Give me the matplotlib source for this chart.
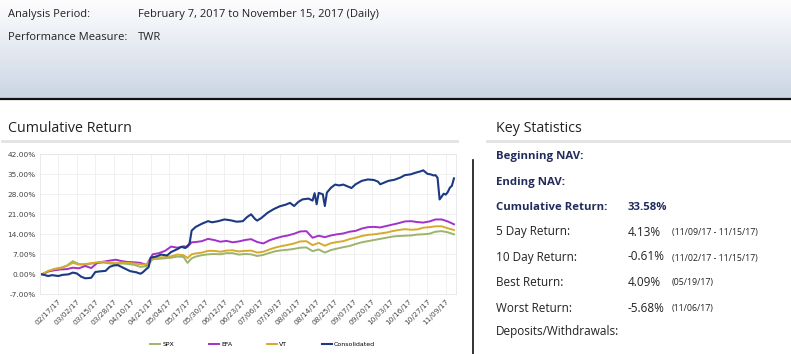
import numpy as np
import matplotlib.pyplot as plt
from matplotlib.colors import LinearSegmentedColormap

# x axis = weekday index counted from 02/07/17 (0) to 11/15/17 (201)
bench_day = [0, 3, 6, 9, 12, 15, 18, 21, 24, 27, 30, 33, 36, 39, 42, 45, 48, 51, 54, 57,
             60, 63, 66, 69, 71, 73, 75, 78, 81, 84, 87, 90, 93, 96, 99, 102, 105, 108, 111, 114,
             117, 120, 123, 126, 129, 132, 135, 138, 141, 144, 147, 150, 153, 156, 159, 162, 165, 168, 171, 174,
             177, 180, 183, 186, 189, 192, 195, 198, 201]

spx = [0, 1.0, 1.9, 2.3, 3.0, 4.6, 3.6, 3.3, 3.7, 4.0, 4.1, 3.8, 3.6, 3.8, 3.6, 3.3, 2.6, 2.8, 5.3, 5.4,
       5.6, 5.8, 6.2, 6.1, 4.0, 5.6, 6.2, 6.7, 7.0, 7.1, 7.0, 7.4, 7.4, 6.9, 7.1, 7.0, 6.4, 6.8, 7.5, 8.1,
       8.4, 8.6, 8.9, 9.3, 9.4, 8.1, 8.7, 7.6, 8.5, 9.0, 9.5, 9.9, 10.6, 11.2, 11.6, 12.0, 12.4, 12.8, 13.2, 13.4,
       13.5, 13.6, 13.9, 14.0, 14.2, 14.9, 15.1, 14.7, 14.0]

efa = [0, 1.0, 1.4, 1.7, 1.8, 2.3, 2.1, 2.9, 2.2, 4.0, 4.4, 4.8, 5.1, 4.6, 4.3, 4.2, 4.0, 3.3, 7.0, 7.4,
       8.2, 9.7, 9.3, 9.8, 9.6, 11.2, 11.3, 11.6, 12.4, 12.0, 11.4, 11.7, 11.2, 11.5, 12.0, 12.3, 11.3, 10.8, 11.9, 12.6,
       13.2, 13.6, 14.2, 15.0, 15.1, 12.8, 13.5, 13.0, 13.6, 14.0, 14.3, 14.9, 15.2, 16.0, 16.5, 16.6, 16.4, 16.9, 17.4, 17.9,
       18.5, 18.6, 18.3, 18.1, 18.5, 19.2, 19.2, 18.5, 17.5]

vt = [0, 1.2, 1.8, 2.1, 2.9, 4.0, 3.4, 3.6, 3.9, 4.2, 4.4, 4.1, 3.9, 4.1, 4.0, 3.8, 3.5, 3.4, 5.7, 5.9,
      6.0, 6.3, 6.9, 6.7, 5.7, 7.0, 7.3, 7.6, 8.2, 8.2, 7.9, 8.3, 8.4, 8.0, 8.2, 8.3, 7.6, 7.9, 8.7, 9.4,
      9.9, 10.3, 10.8, 11.5, 11.6, 10.2, 11.0, 10.0, 10.9, 11.3, 11.6, 12.3, 12.8, 13.4, 13.8, 14.0, 14.3, 14.6, 15.1, 15.5,
      15.8, 15.6, 15.7, 16.3, 16.5, 16.8, 16.8, 16.1, 15.5]

cons_day = [0, 3, 5, 8, 10, 13, 15, 17, 19, 21, 23, 24, 26, 28, 31, 33, 35, 37, 39, 41,
            43, 46, 48, 49, 51, 52, 53, 56, 58, 61, 63, 66, 68, 70, 72, 73, 75, 78, 81, 83,
            86, 89, 92, 95, 98, 100, 102, 104, 105, 107, 110, 113, 116, 119, 121, 123, 125, 127, 130, 132,
            133, 134, 135, 137, 138, 139, 141, 143, 145, 147, 149, 151, 153, 156, 159, 162, 164, 165, 167, 169,
            172, 175, 177, 180, 182, 185, 186, 188, 190, 191, 192, 193, 194, 195, 196, 197, 198, 199, 200, 201]

consolidated = [0, -0.6, -0.3, -0.6, -0.2, 0.0, 0.6, 0.3, -0.8, -1.4, -1.3, -1.2, 0.8, 1.0, 1.2, 2.6, 3.1, 3.2, 2.5, 1.8,
                1.1, 0.7, 0.2, 0.6, 1.9, 2.5, 5.8, 6.3, 6.9, 6.6, 7.8, 8.8, 9.6, 9.2, 10.8, 15.3, 16.6, 17.7, 18.6, 18.2,
                18.6, 19.2, 18.9, 18.4, 18.6, 20.0, 21.0, 19.3, 18.8, 19.7, 21.5, 22.8, 23.8, 24.4, 25.0, 23.9, 25.3, 26.2, 26.5, 25.8,
                28.4, 24.5, 28.5, 28.0, 23.9, 28.6, 30.3, 31.4, 31.1, 31.4, 30.8, 30.2, 31.5, 32.7, 33.2, 33.0, 32.4, 31.5, 32.1, 32.7,
                33.1, 33.9, 34.7, 35.0, 35.5, 36.1, 36.4, 35.2, 34.9, 34.6, 34.7, 33.8, 26.2, 27.2, 28.2, 27.9, 28.8, 30.3, 31.0, 33.58]

tick_day = [8, 17, 26, 35, 44, 53, 62, 71, 80, 89, 98, 107, 116, 125, 134, 143, 152, 161, 170, 179, 188, 197]
tick_labels = ['02/17/17', '03/02/17', '03/15/17', '03/28/17', '04/10/17', '04/21/17', '05/04/17', '05/17/17',
               '05/30/17', '06/12/17', '06/23/17', '07/06/17', '07/19/17', '08/01/17', '08/14/17', '08/25/17',
               '09/07/17', '09/20/17', '10/03/17', '10/16/17', '10/27/17', '11/09/17']
y_ticks = [-7, 0, 7, 14, 21, 28, 35, 42]

stat_labels = ['Beginning NAV:', 'Ending NAV:', 'Cumulative Return:', '5 Day Return:', '10 Day Return:',
               'Best Return:', 'Worst Return:', 'Deposits/Withdrawals:']
stat_values = ['', '', '33.58%', '4.13%', '-0.61%', '4.09%', '-5.68%', '']
stat_periods = ['', '', '', '(11/09/17 - 11/15/17)', '(11/02/17 - 11/15/17)', '(05/19/17)', '(11/06/17)', '']

fig = plt.figure(figsize=(7.91, 3.54), dpi=100)

# page background in pixel coordinates
bg = fig.add_axes([0, 0, 1, 1])
cmap = LinearSegmentedColormap.from_list('hdr', ['#fdfdfe', '#cbd6e4'])
bg.imshow(np.linspace(0, 1, 100).reshape(-1, 1), cmap=cmap, extent=[0, 791, 98, 0], aspect='auto')
bg.plot([0, 791], [98.5, 98.5], color='#111111', lw=1.6)
bg.plot([2, 457], [141, 141], color='#e2e2e2', lw=2)
bg.plot([487, 791], [141, 141], color='#e2e2e2', lw=2)
bg.plot([473, 473], [160, 354], color='#111111', lw=1.2)
bg.set_xlim(0, 791)
bg.set_ylim(354, 0)
bg.axis('off')

# header
hdr = dict(va='center', fontsize=8, family='Open Sans', color='#222222')
bg.text(8, 14, 'Analysis Period:', **hdr)
bg.text(138, 14, 'February 7, 2017 to November 15, 2017 (Daily)', **hdr)
bg.text(8, 38, 'Performance Measure:', **hdr)
bg.text(138, 38, 'TWR', **hdr)

bg.text(8, 129, 'Cumulative Return', va='center', fontsize=10.3, family='Open Sans', color='#222222')
bg.text(496, 129, 'Key Statistics', va='center', fontsize=10.3, family='Open Sans', color='#222222')

# key statistics
row_y = [157, 182, 207, 232, 257, 282, 308, 332]
for i, (lab, val, per) in enumerate(zip(stat_labels, stat_values, stat_periods)):
    if i < 3:
        bg.text(496, row_y[i], lab, va='center', fontsize=8.2, family='Open Sans', weight='bold', color='#222c5c')
        bg.text(628, row_y[i], val, va='center', fontsize=8.2, family='Open Sans', weight='bold', color='#222c5c')
    else:
        bg.text(496, row_y[i], lab, va='center', fontsize=8.5, family='Open Sans', color='#222222')
        bg.text(628, row_y[i], val, va='center', fontsize=8.5, family='Open Sans', color='#222222')
        bg.text(672, row_y[i] + 1, per, va='center', fontsize=6.3, family='Open Sans', color='#222222')

# chart
ax = fig.add_axes([40 / 791, 1 - 294.3 / 354, 416 / 791, 140 / 354])
ax.plot(bench_day, spx, color='#9cb46c', lw=1.4, label='SPX')
ax.plot(bench_day, efa, color='#a331c9', lw=1.4, label='EFA')
ax.plot(bench_day, vt, color='#d8aa2c', lw=1.4, label='VT')
ax.plot(cons_day, consolidated, color='#1b3a82', lw=1.5, label='Consolidated')

ax.set_xlim(-1, 202)
ax.set_ylim(-7, 42)
ax.set_yticks(y_ticks)
ax.set_yticklabels(['{:.2f}%'.format(v) for v in y_ticks])
ax.set_xticks(tick_day)
ax.set_xticklabels(tick_labels, rotation=45, ha='right', rotation_mode='anchor')
ax.tick_params(axis='both', length=0, labelsize=5.3, labelcolor='#444444')
ax.tick_params(axis='y', pad=3)
ax.tick_params(axis='x', pad=3)
ax.grid(True, color='#eeeeee', lw=0.6)
for s in ax.spines.values():
    s.set_color('#e6e6e6')
    s.set_linewidth(0.6)

ax.legend(loc='center', bbox_to_anchor=(0.535, -0.36), ncol=4, frameon=False, fontsize=4.5,
          handlelength=1.6, handletextpad=0.4, columnspacing=5.5)

fig.savefig('out.png', dpi=100)
